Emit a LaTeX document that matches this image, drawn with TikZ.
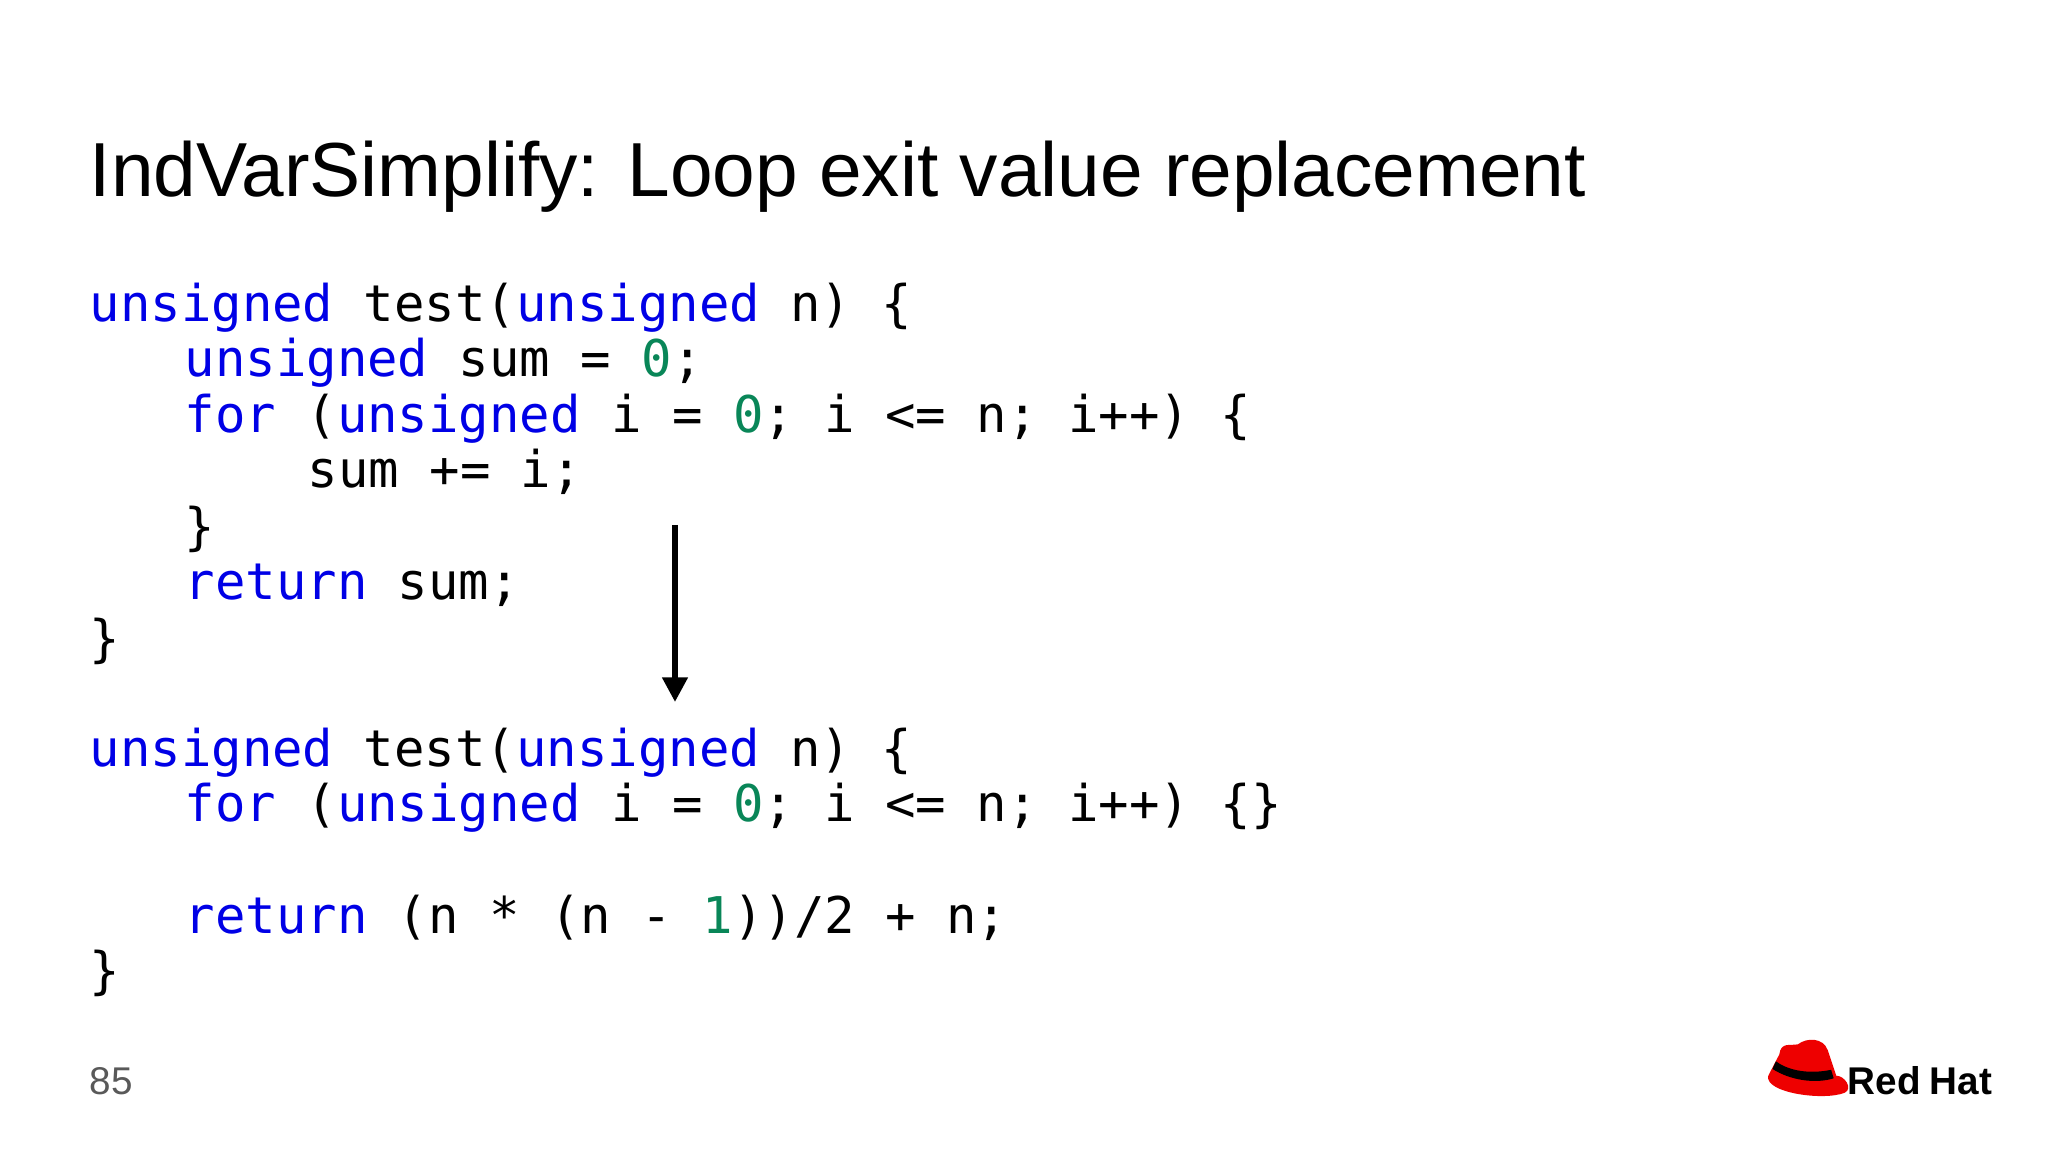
\documentclass[tikz,border=0pt]{standalone}
\usepackage{fontspec}
\setmainfont{Liberation Sans}
\setmonofont{DejaVu Sans Mono}
\usetikzlibrary{arrows.meta}
\definecolor{kw}{HTML}{0000E6}
\definecolor{num}{HTML}{098658}
\definecolor{hatred}{HTML}{EE0000}
\newcommand{\K}[1]{\textcolor{kw}{#1}}
\newcommand{\N}[1]{\textcolor{num}{#1}}
\tikzset{code/.style={anchor=base west,inner sep=0pt,font=\ttfamily\fontsize{14.4pt}{16pt}\selectfont}}
\begin{document}
\begin{tikzpicture}
\useasboundingbox[fill=white] (0,0) rectangle (20.48,11.52);
\node[anchor=base west,inner sep=0pt,font=\fontsize{21.8pt}{26pt}\selectfont] (title) at (0.89,9.55) {IndVarSimplify: Loop exit value replacement};
\node[code] (l1) at (0.89,{11.52-3.22}) {\K{unsigned} test(\K{unsigned} n) \{};
\node[code] (l2) at (1.84,{11.52-3.77}) {\K{unsigned} sum = \N{0};};
\node[code] (l3) at (1.84,{11.52-4.33}) {\K{for} (\K{unsigned} i = \N{0}; i <= n; i++) \{};
\node[code] (l4) at (3.07,{11.52-4.88}) {sum += i;};
\node[code] (l5) at (1.84,{11.52-5.45}) {\}};
\node[code] (l6) at (1.84,{11.52-6.00}) {\K{return} sum;};
\node[code] (l7) at (0.89,{11.52-6.57}) {\}};
\node[code] (m1) at (0.89,{11.52-7.67}) {\K{unsigned} test(\K{unsigned} n) \{};
\node[code] (m2) at (1.84,{11.52-8.22}) {\K{for} (\K{unsigned} i = \N{0}; i <= n; i++) \{\}};
\node[code] (m3) at (1.84,{11.52-9.34}) {\K{return} (n * (n - \N{1}))/2 + n;};
\node[code] (m4) at (0.89,{11.52-9.89}) {\}};
\coordinate (a1) at (6.75,{11.52-5.25});
\coordinate (a2) at (6.75,{11.52-7.02});
\draw[line width=1.6pt,-{Triangle[length=7pt,width=7pt]}] (a1) -- (a2);
\node[anchor=base west,inner sep=0pt,text=black!65,font=\fontsize{11pt}{13pt}\selectfont] (pg) at (0.89,{11.52-10.95}) {85};
% Red Hat logo
\begin{scope}[shift={(17.98,0.55)},scale=0.85]
\fill[hatred] (-0.35,0.25) .. controls (-0.4,0.05) and (0.3,-0.05) .. (0.55,0.05) .. controls (0.65,0.1) and (0.55,0.25) .. (0.45,0.25) -- (0.35,0.55) .. controls (0.3,0.7) and (0.1,0.7) .. (0,0.62) .. controls (-0.1,0.6) and (-0.2,0.65) .. (-0.22,0.5) -- cycle;
\fill[black] (-0.3,0.33) .. controls (-0.1,0.2) and (0.2,0.15) .. (0.42,0.22) -- (0.39,0.32) .. controls (0.15,0.27) and (-0.1,0.3) .. (-0.26,0.42) -- cycle;
\end{scope}
\node[anchor=base west,inner sep=0pt,font=\bfseries\fontsize{11pt}{13pt}\selectfont] (rh) at (18.47,0.57) {Red\kern-0.5pt\ Hat};
\end{tikzpicture}
\end{document}
